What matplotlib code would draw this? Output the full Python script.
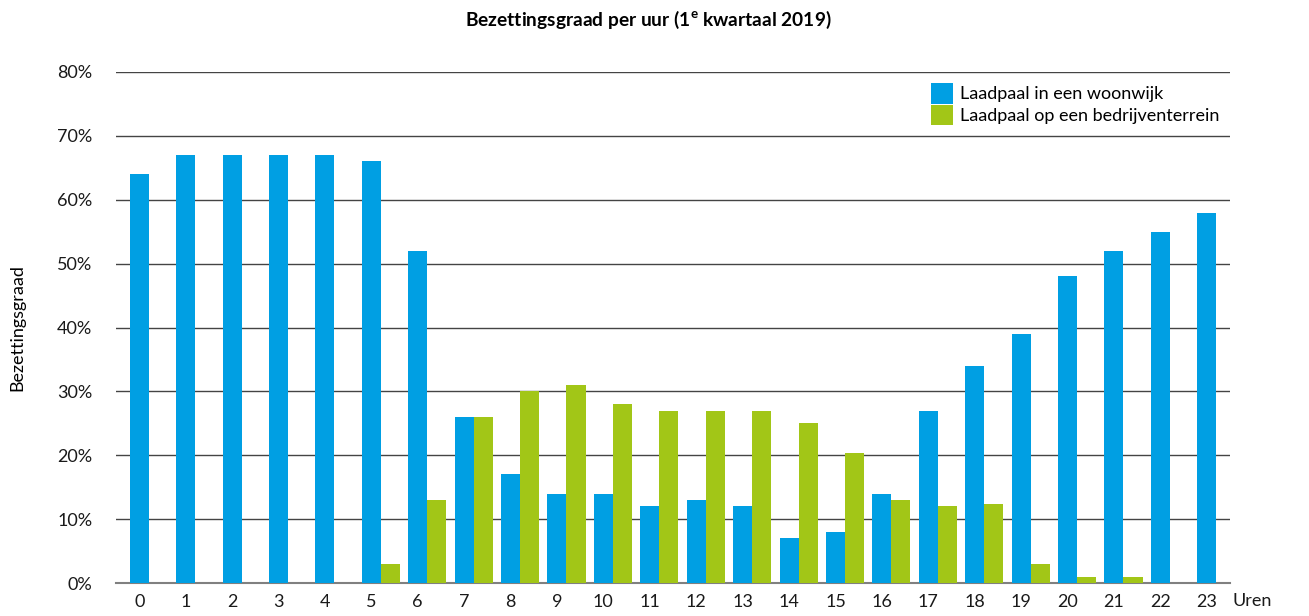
import matplotlib.pyplot as plt
import numpy as np
from matplotlib.ticker import PercentFormatter

plt.rcParams['font.family'] = ['Lato', 'DejaVu Sans']

hours = np.arange(24)
series = ["Laadpaal in een woonwijk", "Laadpaal op een bedrijventerrein"]

woonwijk = [64, 67, 67, 67, 67, 66, 52, 26, 17, 14, 14, 12,
            13, 12, 7, 8, 14, 27, 34, 39, 48, 52, 55, 58]
bedrijf = [0, 0, 0, 0, 0, 3, 13, 26, 30, 31, 28, 27,
           27, 27, 25, 20.3, 13, 12, 12.4, 3, 1, 1, 0, 0]

blue = '#009fe3'
green = '#a2c617'
w = 0.41

fig = plt.figure(figsize=(13.09, 6.16), dpi=100)
ax = fig.add_axes([116/1309, 33/616, (1230-116)/1309, (583-72)/616])

ax.bar(hours, woonwijk, w, color=blue, label=series[0], zorder=3)
ax.bar(hours + w, bedrijf, w, color=green, label=series[1], zorder=3)

ax.set_xlim(-0.5, 23.5)
ax.set_ylim(0, 80)
ax.set_yticks(np.arange(0, 81, 10))
ax.yaxis.set_major_formatter(PercentFormatter(decimals=0))
ax.set_xticks(hours)
ax.tick_params(length=0, labelsize=13, colors='#1a1a1a')
ax.tick_params(axis='y', pad=17)
ax.tick_params(axis='x', pad=8)
ax.grid(axis='y', color='#444444', linewidth=1, zorder=0)

for s in ['top', 'right', 'left']:
    ax.spines[s].set_visible(False)
ax.spines['bottom'].set_color('#808080')
ax.spines['bottom'].set_linewidth(1.5)

ax.set_ylabel('Bezettingsgraad', fontsize=13)
ax.yaxis.set_label_coords(-0.081, 0.5)
fig.text(1252/1309, 1 - 601/616, 'Uren', fontsize=13, ha='center', va='center', color='#1a1a1a')
fig.text(648/1309, 1 - 20/616, 'Bezettingsgraad per uur (1$^{\\mathregular{e}}$ kwartaal 2019)',
         fontsize=13.8, fontweight='bold', ha='center', va='center')

ax.legend(loc='upper right', frameon=False, fontsize=13, handlelength=1.2, handleheight=1.4,
          handletextpad=0.4, labelspacing=0.05, borderaxespad=0.2, bbox_to_anchor=(1.0, 1.0))

plt.savefig('out.png')
